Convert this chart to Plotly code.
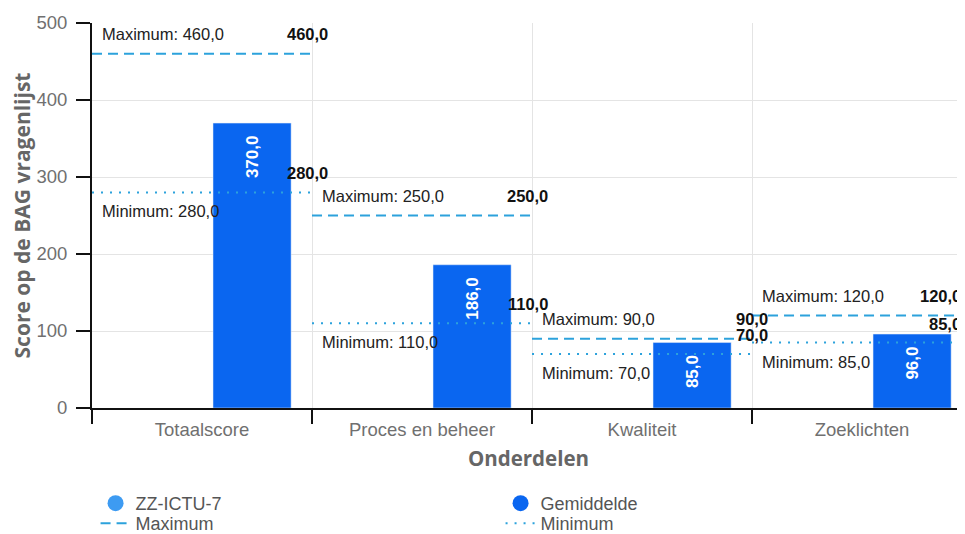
import plotly.graph_objects as go

# ---- data ----
categories = ["Totaalscore", "Proces en beheer", "Kwaliteit", "Zoeklichten"]
gemiddelde = [370, 186, 85, 96]
zz_ictu_7 = [None, None, None, None]
maximum = [460, 250, 90, 120]
minimum = [280, 110, 70, 85]
y_ticks = [0, 100, 200, 300, 400, 500]


def nl(v):
    return f"{v:.1f}".replace(".", ",")


X_MIN, X_MAX = -0.5, 3.468
BAR_COLOR = "#0A66F0"
LIGHT_COLOR = "#3D9BF2"
LINE_COLOR = "#2CA2DC"
FONT = "Liberation Sans"
TITLE_FONT = "Open Sans"

fig = go.Figure()

# legend-only markers (circles)
fig.add_trace(go.Scatter(x=[None], y=[None], mode="markers", name="ZZ-ICTU-7",
                         marker=dict(color=LIGHT_COLOR, size=18, symbol="circle"),
                         legendgroup="zz", hoverinfo="skip", legend="legend"))
fig.add_trace(go.Scatter(x=[None], y=[None], mode="markers", name="Gemiddelde",
                         marker=dict(color=BAR_COLOR, size=18, symbol="circle"),
                         legendgroup="gem", hoverinfo="skip", legend="legend"))

# bars
fig.add_trace(go.Bar(x=categories, y=zz_ictu_7, name="ZZ-ICTU-7", showlegend=False,
                     marker_color=LIGHT_COLOR, width=0.355, offset=-0.405, legendgroup="zz"))
fig.add_trace(go.Bar(x=categories, y=gemiddelde, name="Gemiddelde", showlegend=False,
                     marker_color=BAR_COLOR, width=0.355, offset=0.05, legendgroup="gem",
                     texttemplate="%{y:.1f}\u00a0\u00a0", textposition="inside",
                     insidetextanchor="end", textangle=-90,
                     textfont=dict(color="white", size=17, family=FONT, weight="bold")))

# max / min lines per category (on an overlaid linear axis)
mx_x, mx_y, mn_x, mn_y = [], [], [], []
for i, (mx, mn) in enumerate(zip(maximum, minimum)):
    mx_x += [i - 0.5, i + 0.5, None]
    mx_y += [mx, mx, None]
    mn_x += [i - 0.5, i + 0.5, None]
    mn_y += [mn, mn, None]

fig.add_trace(go.Scatter(x=mx_x, y=mx_y, mode="lines", name="Maximum", xaxis="x2",
                         line=dict(color=LINE_COLOR, width=2, dash="10px,6px"),
                         hoverinfo="skip", legend="legend2"))
fig.add_trace(go.Scatter(x=mn_x, y=mn_y, mode="lines", name="Minimum", xaxis="x2",
                         line=dict(color=LINE_COLOR, width=2, dash="2px,7px"),
                         hoverinfo="skip", legend="legend2"))

annotations = []
for i, (mx, mn) in enumerate(zip(maximum, minimum)):
    right = i + 0.5
    rx = min(right, X_MAX)
    rshift = 18 if right <= X_MAX else -2
    common = dict(xref="x2", yref="y", showarrow=False)
    annotations.append(dict(x=i - 0.5, y=mx, text=f"Maximum: {nl(mx)}", xanchor="left",
                            yanchor="bottom", xshift=8, yshift=9,
                            font=dict(family=FONT, size=16.5, color="#222"), **common))
    annotations.append(dict(x=rx, y=mx, text=f"<b>{nl(mx)}</b>", xanchor="right",
                            yanchor="bottom", xshift=rshift, yshift=9,
                            font=dict(family=FONT, size=16.5, color="#111"), **common))
    annotations.append(dict(x=i - 0.5, y=mn, text=f"Minimum: {nl(mn)}", xanchor="left",
                            yanchor="top", xshift=8, yshift=-8,
                            font=dict(family=FONT, size=16.5, color="#222"), **common))
    annotations.append(dict(x=rx, y=mn, text=f"<b>{nl(mn)}</b>", xanchor="right",
                            yanchor="bottom", xshift=rshift, yshift=8,
                            font=dict(family=FONT, size=16.5, color="#111"), **common))

legend_common = dict(orientation="h", xref="container", yref="container",
                     x=0.0915, xanchor="left", yanchor="top",
                     entrywidth=360, entrywidthmode="pixels",
                     font=dict(family=FONT, size=18, color="#555"),
                     traceorder="normal", bgcolor="rgba(0,0,0,0)")

# the page body adds an 8px margin, so the figure is sized 8px smaller
fig.update_layout(
    width=957, height=526,
    margin=dict(l=84, r=0, t=15, b=126),
    paper_bgcolor="white", plot_bgcolor="white",
    separators=",.",
    barmode="overlay",
    showlegend=True,
    annotations=annotations,
    legend=dict(y=0.0932, **legend_common),
    legend2=dict(y=0.0552, **legend_common),
    xaxis=dict(type="category", categoryorder="array", categoryarray=categories,
               range=[X_MIN, X_MAX], tickson="boundaries", ticks="outside", ticklen=14,
               tickcolor="#111", tickwidth=2, showline=True, linecolor="#111", linewidth=2,
               showgrid=True, gridcolor="#e4e4e4", gridwidth=1, automargin=False,
               ticklabelstandoff=4,
               tickfont=dict(family=FONT, size=18.5, color="#707070"),
               title=dict(text="<b>Onderdelen</b>",
                          font=dict(family=TITLE_FONT, size=20.5, color="#666"), standoff=12)),
    xaxis2=dict(overlaying="x", anchor="y", range=[X_MIN, X_MAX], visible=False),
    yaxis=dict(range=[0, 500], tickvals=y_ticks, ticks="outside", ticklen=14,
               tickcolor="#111", tickwidth=2, showline=True, linecolor="#111", linewidth=2,
               showgrid=True, gridcolor="#e4e4e4", zeroline=False, automargin=False,
               ticklabelstandoff=5,
               tickfont=dict(family=FONT, size=18.5, color="#707070"),
               title=dict(text="<b>Score op de BAG vragenlijst</b>",
                          font=dict(family=TITLE_FONT, size=21, color="#666"), standoff=3)),
)

fig.write_html("out.html")
